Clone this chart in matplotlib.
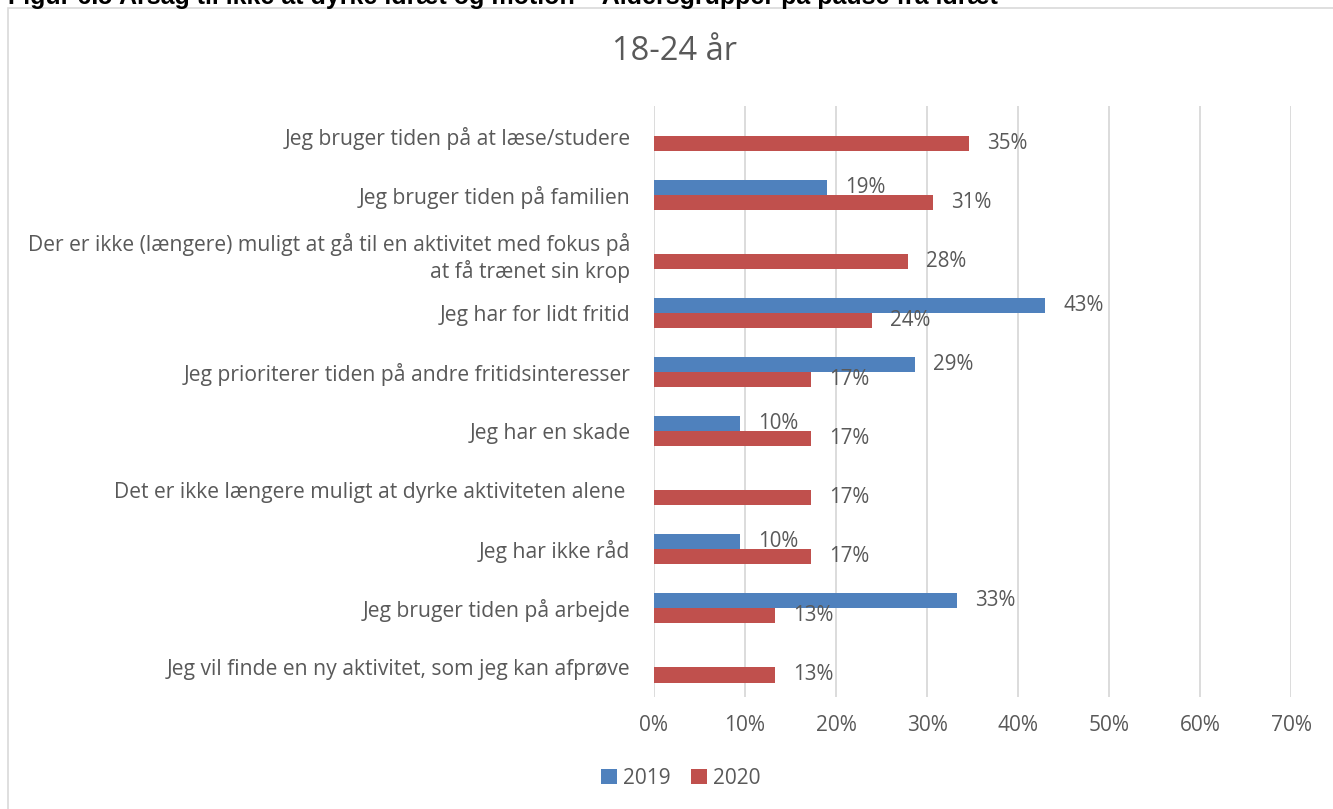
import numpy as np
import matplotlib
matplotlib.use("Agg")
import matplotlib.pyplot as plt
from matplotlib.patches import Rectangle

categories = [
    "Jeg bruger tiden på at læse/studere",
    "Jeg bruger tiden på familien",
    "Der er ikke (længere) muligt at gå til en aktivitet med fokus på\nat få trænet sin krop",
    "Jeg har for lidt fritid",
    "Jeg prioriterer tiden på andre fritidsinteresser",
    "Jeg har en skade",
    "Det er ikke længere muligt at dyrke aktiviteten alene ",
    "Jeg har ikke råd",
    "Jeg bruger tiden på arbejde",
    "Jeg vil finde en ny aktivitet, som jeg kan afprøve",
]
values_2019 = [np.nan, 0.19, np.nan, 0.43, 0.287, 0.095, np.nan, 0.095, 0.333, np.nan]
values_2020 = [0.346, 0.307, 0.279, 0.24, 0.173, 0.173, 0.173, 0.173, 0.133, 0.133]
series_names = ["2019", "2020"]
xticks = [0, 0.1, 0.2, 0.3, 0.4, 0.5, 0.6, 0.7]
title = "18-24 år"
fig_title = "Figur 6.5 Årsag til ikke at dyrke idræt og motion – Aldersgrupper på pause fra idræt"

blue = "#4F81BD"
red = "#C0504D"
txt = "#595959"
font = ["Open Sans", "DejaVu Sans"]
plt.rcParams["font.family"] = font

W, H = 1333, 809
fig = plt.figure(figsize=(W / 100, H / 100), dpi=100)

# outer frame
fig.patches.append(Rectangle((8 / W, -0.01), 1.0, 1 - 8 / H + 0.01, transform=fig.transFigure,
                             fill=False, edgecolor="#D9D9D9", linewidth=1.2))
fig.text(8 / W, 1 - 4 / H, fig_title, fontsize=18, fontweight="bold",
         family=["Liberation Sans", "DejaVu Sans"], color="black", va="baseline", ha="left")

left, right = 654 / W, 1291 / W
top, bottom = 1 - 106 / H, 1 - 697 / H
ax = fig.add_axes([left, bottom, right - left, top - bottom])

n = len(categories)
y = np.arange(n)
h = 0.255
b1 = ax.barh(y - h / 2, values_2019, height=h, color=blue, label=series_names[0], zorder=3)
b2 = ax.barh(y + h / 2, values_2020, height=h, color=red, label=series_names[1], zorder=3)

for bars, vals in ((b1, values_2019), (b2, values_2020)):
    for rect, v in zip(bars, vals):
        if np.isnan(v):
            continue
        ax.annotate(f"{v*100:.0f}%", (v, rect.get_y() + rect.get_height() / 2),
                    xytext=(13, 0), textcoords="offset points", va="center", ha="left",
                    fontsize=14.8, color=txt)

ax.set_xlim(0, 0.7)
ax.set_ylim(n - 0.5, -0.5)
ax.set_xticks(xticks)
ax.set_xticklabels([f"{t*100:.0f}%" for t in xticks], fontsize=15, color=txt)
ax.set_yticks(y)
ax.set_yticklabels(categories, fontsize=15.2, color=txt, multialignment="right")
ax.tick_params(axis="x", length=0, pad=13)
ax.tick_params(axis="y", length=0, pad=17)
ax.grid(axis="x", color="#D9D9D9", linewidth=1.3, zorder=0)
for s in ax.spines.values():
    s.set_visible(False)

fig.text(675 / W, 1 - 52 / H, title, fontsize=23.5, color=txt, ha="center", va="center")

leg = fig.legend(handles=[b1, b2], labels=series_names, loc="center", bbox_to_anchor=(681 / W, 1 - 778 / H),
                 ncol=2, frameon=False, fontsize=15, handlelength=0.75, handleheight=0.75,
                 handletextpad=0.3, columnspacing=1.0)
for t in leg.get_texts():
    t.set_color(txt)

fig.savefig("out.png", dpi=100)
